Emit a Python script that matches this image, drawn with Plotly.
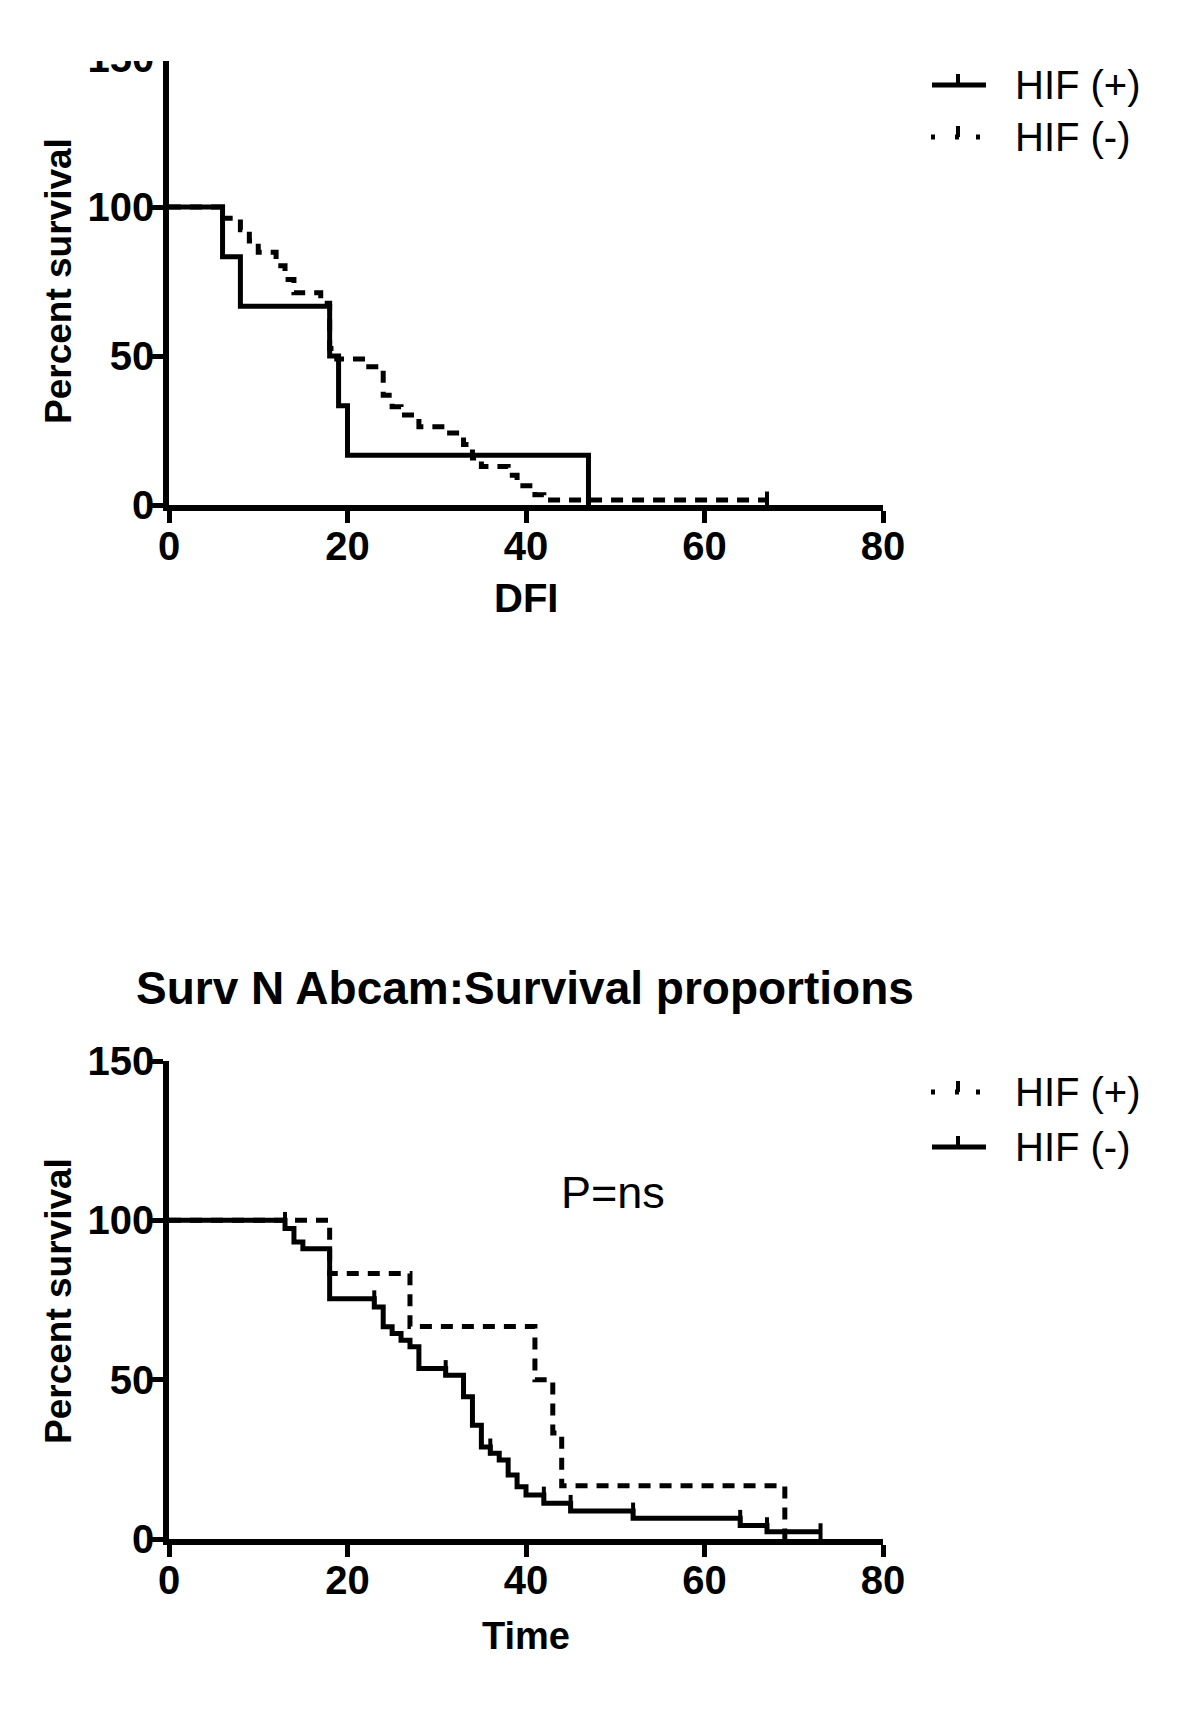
import plotly.graph_objects as go

# ---------------- data ----------------
# Top panel (DFI)
top_pos_t = [0, 6, 8, 18, 19, 20, 47]
top_pos_s = [100, 83.3, 66.7, 50.0, 33.3, 16.7, 0]
top_neg_t = [0, 6, 8, 9, 10, 12, 13, 14, 17, 18, 18.8, 22, 24, 25, 26, 28, 31, 33, 34, 35, 38, 39, 41, 42, 67]
top_neg_s = [100, 96.2, 92.4, 88.6, 84.8, 80.3, 75.7, 71.2, 67.7, 52.5, 49.0, 46.4, 36.8, 33.0, 30.2, 26.3,
             24.2, 20.3, 15.8, 12.9, 10.0, 6.5, 3.4, 1.7, 1.7]
top_neg_cens_t = [67]
top_neg_cens_s = [1.7]

# Bottom panel (Time)
bot_pos_t = [0, 18, 27, 41, 43, 44, 69]
bot_pos_s = [100, 83.3, 66.7, 50.0, 33.3, 16.7, 0]
bot_neg_t = [0, 13, 14, 15, 18, 23, 24, 25, 26, 27, 28, 31, 33, 34, 35, 36, 37, 38, 39, 40, 42, 45, 52, 64, 67, 73]
bot_neg_s = [100, 97.4, 93.2, 91.1, 75.4, 72.8, 66.6, 64.5, 62.4, 60.3, 53.5, 51.4, 44.6, 35.7, 28.9, 26.9,
             24.8, 20.1, 16.4, 13.8, 11.2, 8.8, 6.5, 4.2, 2.3, 2.3]
bot_neg_cens_t = [13, 23, 31, 36, 42, 45, 52, 64, 67, 73]
bot_neg_cens_s = [100, 75.4, 53.5, 28.9, 13.8, 11.2, 8.8, 6.5, 4.2, 2.3]

x_ticks = [0, 20, 40, 60, 80]
y_ticks = [0, 50, 100, 150]

title_text = "Surv N Abcam:Survival proportions"
legend_top = ["HIF (+)", "HIF (-)"]
legend_bot = ["HIF (+)", "HIF (-)"]

# ---------------- layout helpers ----------------
W, H = 1200, 1710
OFF = 8  # page body margin
def px(x):
    return (x - OFF) / W
def py(y):
    return 1 - (y - OFF) / H

FONT = "Liberation Sans, Arial, sans-serif"
LW = 5
DASH = "12px,9px"

fig = go.Figure()

def add_curve(t, s, dashed, xa, ya):
    fig.add_trace(go.Scatter(
        x=t, y=s, mode="lines", line=dict(color="black", width=LW, shape="hv",
                                          dash=DASH if dashed else "solid"),
        xaxis=xa, yaxis=ya, showlegend=False, hoverinfo="skip"))

def add_cens(t, s, xa, ya):
    fig.add_trace(go.Scatter(
        x=t, y=s, mode="markers",
        marker=dict(symbol="line-ns", size=12, line=dict(color="black", width=4)),
        xaxis=xa, yaxis=ya, showlegend=False, hoverinfo="skip"))

add_curve(top_neg_t, top_neg_s, True, "x", "y")
add_curve(top_pos_t, top_pos_s, False, "x", "y")
add_cens(top_neg_cens_t, top_neg_cens_s, "x", "y")

add_curve(bot_pos_t, bot_pos_s, True, "x2", "y2")
add_curve(bot_neg_t, bot_neg_s, False, "x2", "y2")
add_cens(bot_neg_cens_t, bot_neg_cens_s, "x2", "y2")

axis_common = dict(showline=True, linecolor="black", linewidth=5.5, ticks="outside", ticklen=12,
                   tickwidth=4.5, tickcolor="black", showgrid=False, zeroline=False, automargin=False,
                   tickfont=dict(family=FONT, size=40, color="black", weight="bold"))

fig.update_layout(
    template="none",
    width=W, height=H, margin=dict(l=0, r=0, t=0, b=0, pad=0, autoexpand=False),
    paper_bgcolor="white", plot_bgcolor="white", showlegend=False,
    xaxis=dict(domain=[px(169), px(883)], range=[0, 80], tickvals=x_ticks, anchor="y",
               ticklabelstandoff=-11, **axis_common),
    yaxis=dict(domain=[py(505), py(58)], range=[0, 150], tickvals=y_ticks, anchor="x",
               ticklabelstandoff=-11, **axis_common),
    xaxis2=dict(domain=[px(169), px(883)], range=[0, 80], tickvals=x_ticks, anchor="y2",
                ticklabelstandoff=-11, **axis_common),
    yaxis2=dict(domain=[py(1539), py(1061)], range=[0, 150], tickvals=y_ticks, anchor="x2",
                ticklabelstandoff=-11, **axis_common),
)

shapes = []
# clip the top of the first panel, as in the reference
shapes.append(dict(type="rect", xref="paper", yref="paper", x0=0, x1=1, y0=py(61), y1=1.05,
                   fillcolor="white", line=dict(width=0), layer="above"))

def legend_sample(ycen, dashed):
    if dashed:
        for xc in (933, 957, 978):
            shapes.append(dict(type="line", xref="paper", yref="paper", x0=px(xc - 2), x1=px(xc + 2),
                               y0=py(ycen), y1=py(ycen), line=dict(color="black", width=5)))
    else:
        shapes.append(dict(type="line", xref="paper", yref="paper", x0=px(932), x1=px(986),
                           y0=py(ycen), y1=py(ycen), line=dict(color="black", width=5)))
    shapes.append(dict(type="line", xref="paper", yref="paper", x0=px(958), x1=px(958),
                       y0=py(ycen), y1=py(ycen - 11), line=dict(color="black", width=4)))

legend_sample(85, False)
legend_sample(137, True)
legend_sample(1092, True)
legend_sample(1147, False)
fig.update_layout(shapes=shapes)

ann = []
def text(x, y, s, size, bold=False, angle=0, xanchor="center"):
    ann.append(dict(xref="paper", yref="paper", x=px(x), y=py(y), text=s, showarrow=False,
                    xanchor=xanchor, yanchor="middle", textangle=angle,
                    font=dict(family=FONT, size=size, color="black", weight="bold" if bold else "normal")))

text(58, 281, "Percent survival", 37, bold=True, angle=-90)
text(58, 1301, "Percent survival", 37, bold=True, angle=-90)
text(526, 598, "DFI", 40, bold=True)
text(526, 1636, "Time", 38, bold=True)
text(525, 988, title_text, 46, bold=True)
text(613, 1192, "P=ns", 45)
text(1013, 85, legend_top[0], 40, xanchor="left")
text(1013, 137, legend_top[1], 40, xanchor="left")
text(1013, 1092, legend_bot[0], 40, xanchor="left")
text(1013, 1147, legend_bot[1], 40, xanchor="left")
fig.update_layout(annotations=ann)

fig.write_html("out.html")
